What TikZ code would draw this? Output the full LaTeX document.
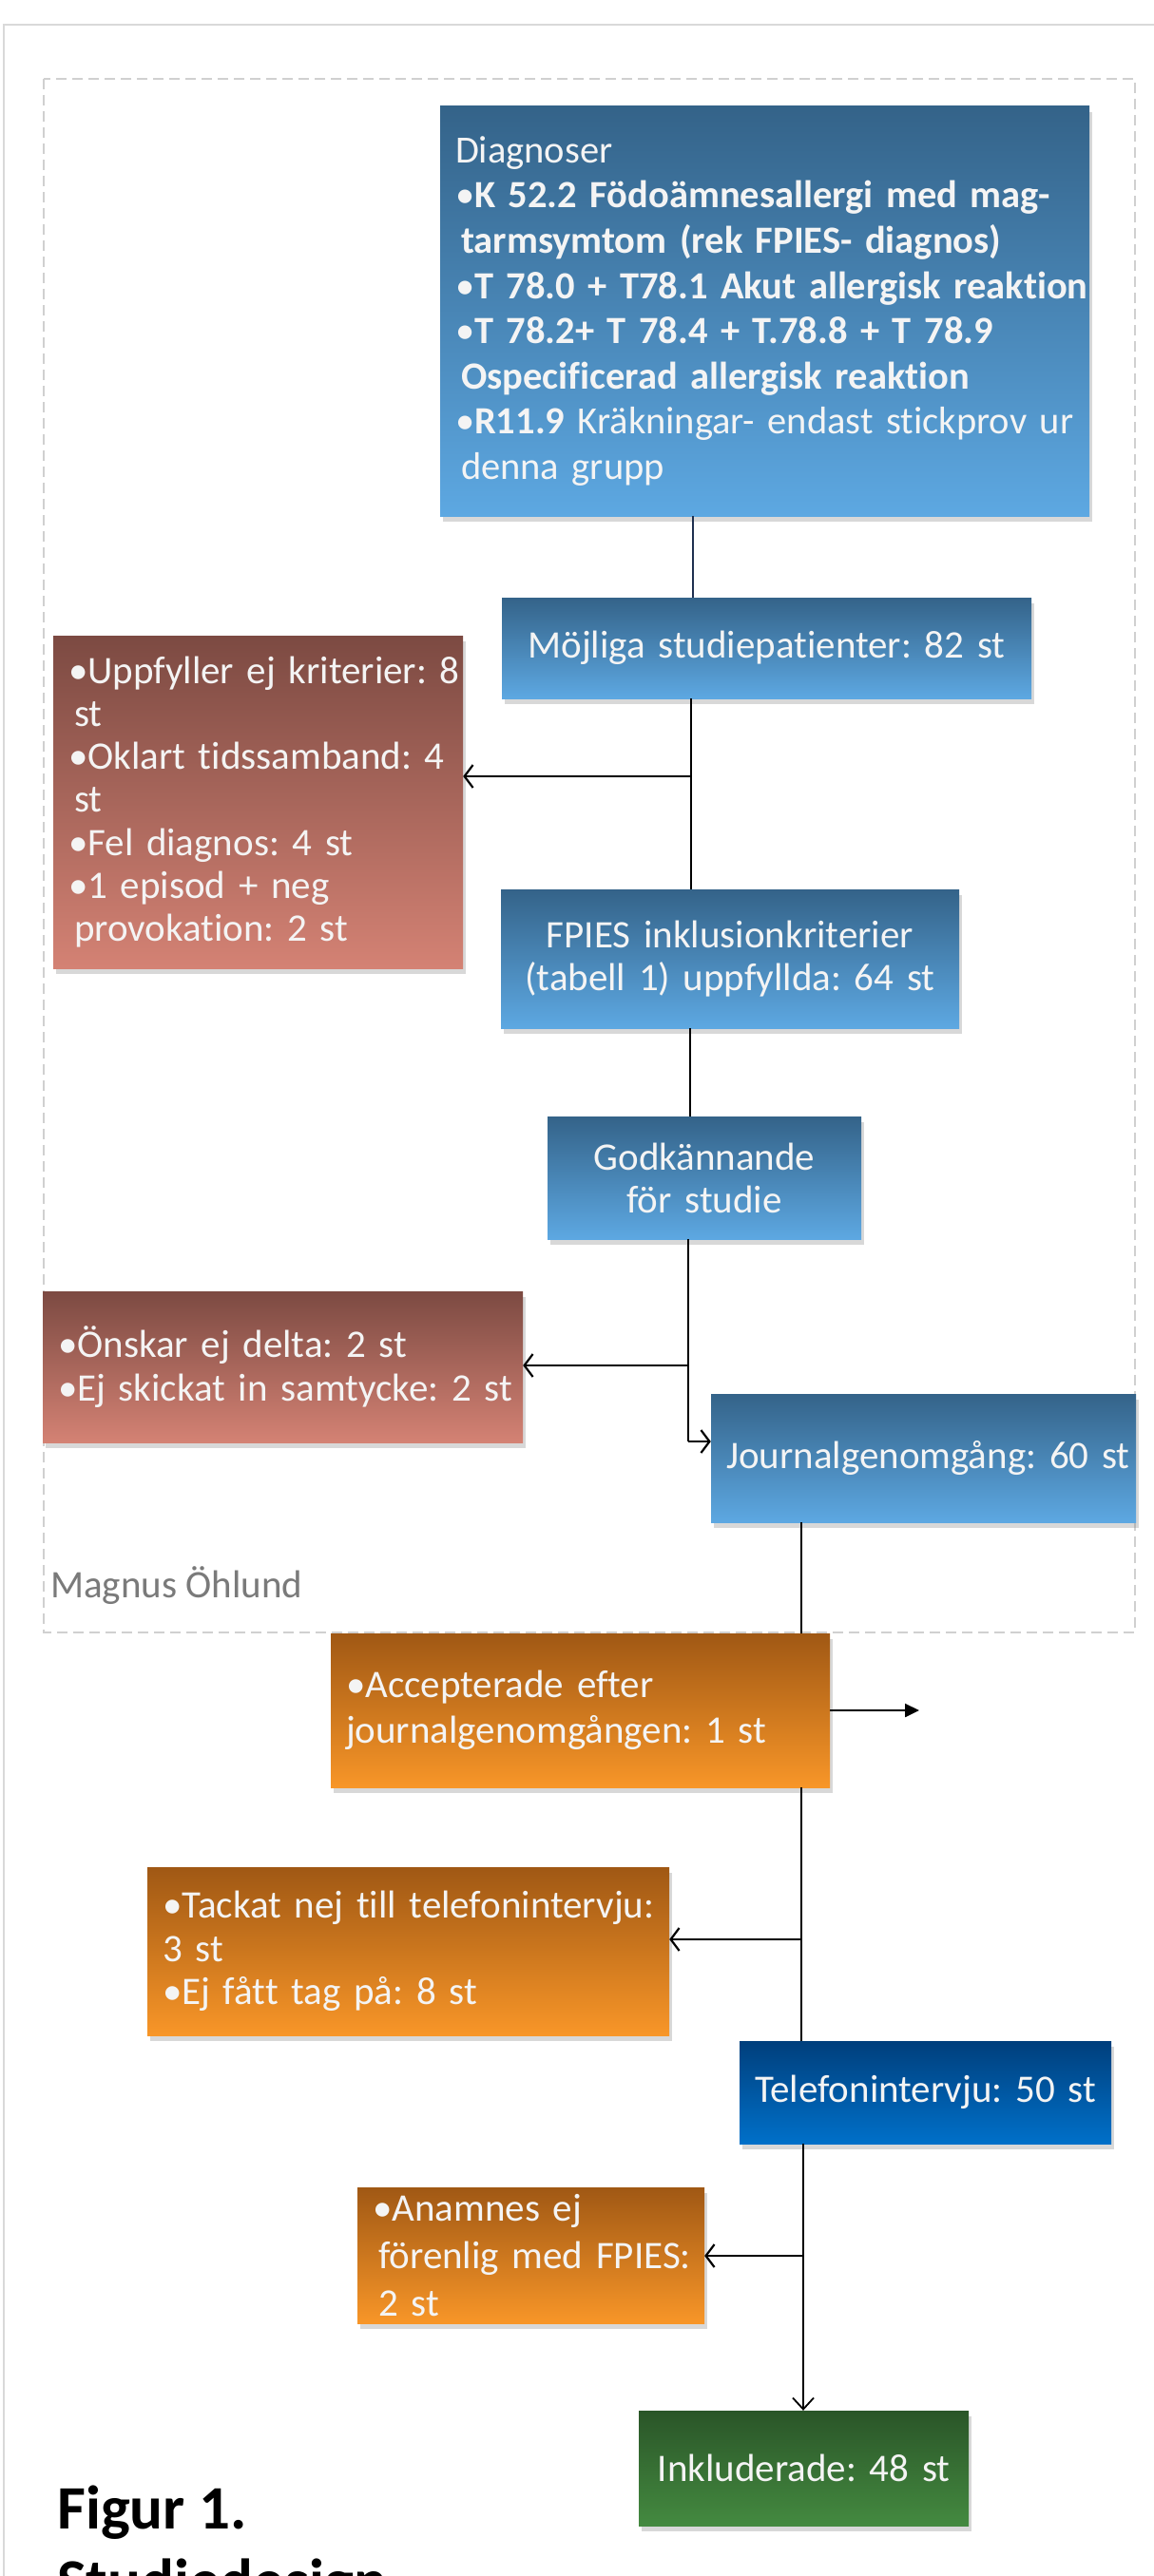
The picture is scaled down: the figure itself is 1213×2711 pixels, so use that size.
\documentclass[tikz,border=0pt]{standalone}
\usepackage{fontspec}
\setmainfont{Carlito}[Ligatures=NoCommon]
\frenchspacing
\usetikzlibrary{arrows.meta,shadows,calc}
\definecolor{blueT}{HTML}{346389}
\definecolor{blueB}{HTML}{5DA8E2}
\definecolor{redT}{HTML}{7C4A42}
\definecolor{redB}{HTML}{D48274}
\definecolor{oraT}{HTML}{A05814}
\definecolor{oraB}{HTML}{F89628}
\definecolor{telT}{HTML}{003F7C}
\definecolor{telB}{HTML}{0070C9}
\definecolor{grnT}{HTML}{2A5528}
\definecolor{grnB}{HTML}{448A40}
\definecolor{txt}{HTML}{F4F4F4}
\definecolor{frame}{HTML}{D9D9D9}
\definecolor{dashc}{HTML}{D0D0D0}
\definecolor{navy}{HTML}{1F3050}
\definecolor{graytxt}{HTML}{7A7A7A}
\newcommand{\oneline}[1]{\mbox{#1}}
\begin{document}
\begin{tikzpicture}[x=1pt,y=-1pt,
  box/.style={rectangle, inner xsep=16pt, inner ysep=0pt, text=txt,
    font=\fontsize{41}{46}\selectfont,
    drop shadow={opacity=0.3, shadow xshift=3pt, shadow yshift=-6pt}},
  bluebox/.style={box, top color=blueT, bottom color=blueB},
  redbox/.style={box, top color=redT, bottom color=redB},
  orabox/.style={box, top color=oraT, bottom color=oraB},
  telbox/.style={box, top color=telT, bottom color=telB},
  grnbox/.style={box, top color=grnT, bottom color=grnB},
  conn/.style={draw=black, line width=1.6pt},
  navyconn/.style={draw=navy, line width=1.6pt},
  arr/.style={draw=black, line width=2.4pt, -{Straight Barb[length=9pt,width=24pt,line width=2.2pt]}},
  farr/.style={draw=black, line width=2.4pt, -{Triangle[length=15pt,width=14pt]}}
]
\useasboundingbox (0,0) rectangle (1213,2711);
\fill[white] (0,0) rectangle (1213,2711);
\draw[frame, line width=1.8pt] (4,2760) -- (4,26) -- (1260,26);
\draw[dashc, line width=1.6pt, dash pattern=on 11pt off 6pt] (46,83) rectangle (1194,1718);

\node[bluebox, text width=651pt, minimum height=431pt, align=left,
      font=\fontsize{40.5}{47.6}\selectfont] (Diag) at (804.5,327.5)
 {\oneline{Diagnoser}\\
  \oneline{•\textbf{K 52.2 Födoämnesallergi med mag-}}\\
  \oneline{\hspace*{6pt}\textbf{tarmsymtom (rek FPIES- diagnos)}}\\
  \oneline{•\textbf{T 78.0 + T78.1 Akut allergisk reaktion}}\\
  \oneline{•\textbf{T 78.2+ T 78.4 + T.78.8 + T 78.9}}\\
  \oneline{\hspace*{6pt}\textbf{Ospecificerad allergisk reaktion}}\\
  \oneline{•\textbf{R11.9} Kräkningar- endast stickprov ur}\\
  \oneline{\hspace*{6pt}denna grupp}};

\node[bluebox, text width=525pt, minimum height=106pt, align=center] (Moj) at (806.5,682)
 {\oneline{Möjliga studiepatienter: 82 st}};

\node[redbox, text width=399pt, minimum height=350pt, align=left,
      font=\fontsize{41}{45.2}\selectfont] (R1) at (271.5,844)
 {\oneline{•Uppfyller ej kriterier: 8}\\
  \oneline{\hspace*{6pt}st}\\
  \oneline{•Oklart tidssamband: 4}\\
  \oneline{\hspace*{6pt}st}\\
  \oneline{•Fel diagnos: 4 st}\\
  \oneline{•1 episod + neg}\\
  \oneline{\hspace*{6pt}provokation: 2 st}};

\node[bluebox, text width=450pt, minimum height=146pt, align=center,
      font=\fontsize{41}{45}\selectfont] (FP) at (768,1009)
 {\oneline{FPIES inklusionkriterier}\\\oneline{(tabell 1) uppfyllda: 64 st}};

\node[bluebox, text width=298pt, minimum height=129pt, align=center,
      font=\fontsize{41}{45}\selectfont] (God) at (741,1239.5)
 {\oneline{Godkännande}\\\oneline{för studie}};

\node[redbox, text width=473pt, minimum height=159pt, align=left] (R2) at (297.5,1438.5)
 {\oneline{•Önskar ej delta: 2 st}\\
  \oneline{•Ej skickat in samtycke: 2 st}};

\node[bluebox, text width=415pt, minimum height=135pt, align=center] (Jour) at (971.5,1534.5)
 {\oneline{Journalgenomgång: 60 st}};

\node[anchor=west, text=graytxt, font=\fontsize{41}{46}\selectfont, inner sep=0pt] (Mag) at (53,1669)
 {Magnus Öhlund};

\node[orabox, text width=493pt, minimum height=162pt, align=left,
      font=\fontsize{41}{48}\selectfont] (Acc) at (610.5,1800)
 {\oneline{•Accepterade efter}\\
  \oneline{journalgenomgången: 1 st}};

\node[orabox, text width=517pt, minimum height=177pt, align=left,
      font=\fontsize{41}{45.5}\selectfont] (Tack) at (429.5,2053.5)
 {\oneline{•Tackat nej till telefonintervju:}\\
  \oneline{3 st}\\
  \oneline{•Ej fått tag på: 8 st}};

\node[telbox, text width=359pt, minimum height=108pt, align=center] (Tel) at (973.5,2202)
 {\oneline{Telefonintervju: 50 st}};

\node[orabox, text width=333pt, minimum height=143pt, align=left,
      font=\fontsize{41}{50}\selectfont] (Anam) at (558.5,2373.5)
 {\oneline{•Anamnes ej}\\
  \oneline{\hspace*{6pt}förenlig med FPIES:}\\
  \oneline{\hspace*{6pt}2 st}};

\node[grnbox, text width=315pt, minimum height=121pt, align=center] (Inkl) at (845.5,2597.5)
 {\oneline{Inkluderade: 48 st}};

\node[anchor=base west, inner sep=0pt, font=\fontsize{65}{75}\selectfont\bfseries] (Fig) at (60,2661) {Figur 1.};
\node[anchor=base west, inner sep=0pt, font=\fontsize{65}{75}\selectfont\bfseries] (Stud) at (60,2738) {Studiedesign};

% connectors
\coordinate (t1) at (729,0);
\coordinate (t2) at (727,0);
\coordinate (t3) at (726,0);
\coordinate (b1) at (727,817);
\coordinate (j1) at (724,1517);
\coordinate (b2) at (724,1437);
\coordinate (t4) at (843,0);
\coordinate (e1) at (967,1800);
\coordinate (b3) at (843,2041);
\coordinate (t5) at (845,0);
\coordinate (b4) at (845,2374);

\draw[navyconn] (Diag.south -| t1) -- (Moj.north -| t1);
\draw[conn] (Moj.south -| t2) -- (FP.north -| t2);
\draw[arr] (b1) -- (b1 -| R1.east);
\draw[conn] (FP.south -| t3) -- (God.north -| t3);
\draw[conn] (God.south -| j1) -- (j1);
\draw[arr] (j1) -- (j1 -| Jour.west);
\draw[arr] (b2) -- (b2 -| R2.east);
\draw[conn] (Jour.south -| t4) -- (Acc.north -| t4);
\draw[farr] (Acc.east) -- (e1);
\draw[conn] (Acc.south -| t4) -- (Tel.north -| t4);
\draw[arr] (b3) -- (b3 -| Tack.east);
\draw[conn, -{Straight Barb[length=12pt,width=22pt,line width=1.8pt]}] (Tel.south -| t5) -- (Inkl.north -| t5);
\draw[arr] (b4) -- (b4 -| Anam.east);
\end{tikzpicture}
\end{document}
